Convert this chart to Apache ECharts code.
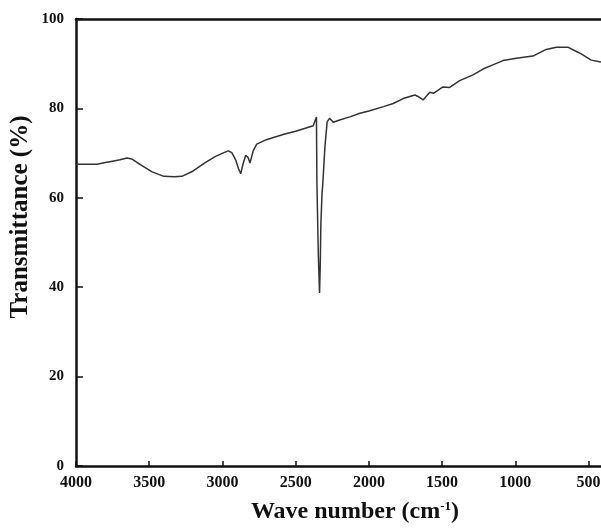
<!DOCTYPE html>
<html>
<head>
<meta charset="utf-8">
<script src="https://cdn.jsdelivr.net/npm/echarts@6/dist/echarts.min.js"></script>
<style>
html,body{margin:0;padding:0;background:#fff;}
#chart{width:601px;height:528px;}
</style>
</head>
<body>
<div id="chart"></div>
<script>
const wavenumbers = [4000,3900,3857,3800,3750,3700,3652,3620,3550,3480,3400,3330,3277,3200,3120,3050,2990,2960,2936,2910,2890,2875,2860,2841,2825,2812,2790,2766,2700,2641,2580,2500,2440,2380,2368,2358,2355,2345,2337,2332,2328,2320,2315,2300,2285,2268,2243,2200,2130,2061,2000,1900,1834,1766,1686,1660,1630,1584,1557,1494,1448,1380,1289,1221,1150,1084,993,880,789,720,641,600,550,482,415];
const transmittance = [67.5,67.5,67.5,67.9,68.2,68.5,68.9,68.7,67.2,65.8,64.8,64.7,64.8,66.0,67.8,69.2,70.1,70.5,70.1,68.5,66.5,65.4,67.5,69.5,69.0,67.8,70.5,72.0,73.0,73.6,74.2,74.9,75.5,76.1,76.4,78.1,63.5,47,38.7,45,54,61,63,71.5,77,77.8,76.9,77.4,78.1,78.9,79.4,80.4,81.1,82.2,83.0,82.6,81.9,83.6,83.4,84.8,84.7,86.2,87.5,88.8,89.8,90.7,91.2,91.7,93.2,93.7,93.7,93.0,92.2,90.8,90.4];
const xTicks = [4000,3500,3000,2500,2000,1500,1000,500];
const yTicks = [0,20,40,60,80,100];
const xTitle = 'Wave number (cm';
const yTitle = 'Transmittance (%)';

const serif = '"Liberation Serif","DejaVu Serif",serif';
const chart = echarts.init(document.getElementById('chart'));
chart.setOption({
  animation: false,
  backgroundColor: '#fff',
  grid: {left: 76, right: 0, top: 19, bottom: 62, containLabel: false, outerBoundsMode: 'none'},
  xAxis: [{
    type: 'value', inverse: true, min: 415, max: 4000,
    axisLine: {show: true, onZero: false, lineStyle: {color: '#111', width: 2.5}},
    axisTick: {show: true, inside: true, length: 5, customValues: xTicks, lineStyle: {color: '#111', width: 1.5}},
    axisLabel: {customValues: xTicks, formatter: v => String(v), color: '#111', fontFamily: serif, fontWeight: 'bold', fontSize: 16, margin: 9, hideOverlap: false},
    splitLine: {show: false}
  }, {
    type: 'value', inverse: true, min: 415, max: 4000, position: 'top',
    axisLine: {show: true, onZero: false, lineStyle: {color: '#111', width: 2.5}},
    axisTick: {show: false}, axisLabel: {show: false}, splitLine: {show: false}
  }],
  yAxis: {
    type: 'value', min: 0, max: 100, interval: 20,
    axisLine: {show: true, onZero: false, lineStyle: {color: '#111', width: 2.5}},
    axisTick: {show: true, inside: true, length: 7, lineStyle: {color: '#111', width: 1.5}},
    axisLabel: {formatter: v => String(v), color: '#111', fontFamily: serif, fontWeight: 'bold', fontSize: 15, margin: 12},
    splitLine: {show: false}
  },
  graphic: [{
    type: 'text', x: 355, y: 512,
    style: {
      text: '{a|' + xTitle + '}{s|-1}{a|)}',
      textAlign: 'center', textVerticalAlign: 'middle',
      rich: {
        a: {fontFamily: serif, fontWeight: 'bold', fontSize: 24, fill: '#111'},
        s: {fontFamily: serif, fontWeight: 'bold', fontSize: 13, fill: '#111', verticalAlign: 'top', padding: [0,0,11,0]}
      }
    }
  }, {
    type: 'text', x: 21, y: 217, rotation: Math.PI / 2,
    style: {
      text: yTitle, textAlign: 'center', textVerticalAlign: 'middle',
      fontFamily: serif, fontWeight: 'bold', fontSize: 25, fill: '#111'
    }
  }],
  series: [{
    type: 'line', xAxisIndex: 0,
    data: wavenumbers.map((w, i) => [w, transmittance[i]]),
    showSymbol: false, smooth: false,
    lineStyle: {color: '#333', width: 1.5}
  }]
});
</script>
</body>
</html>
